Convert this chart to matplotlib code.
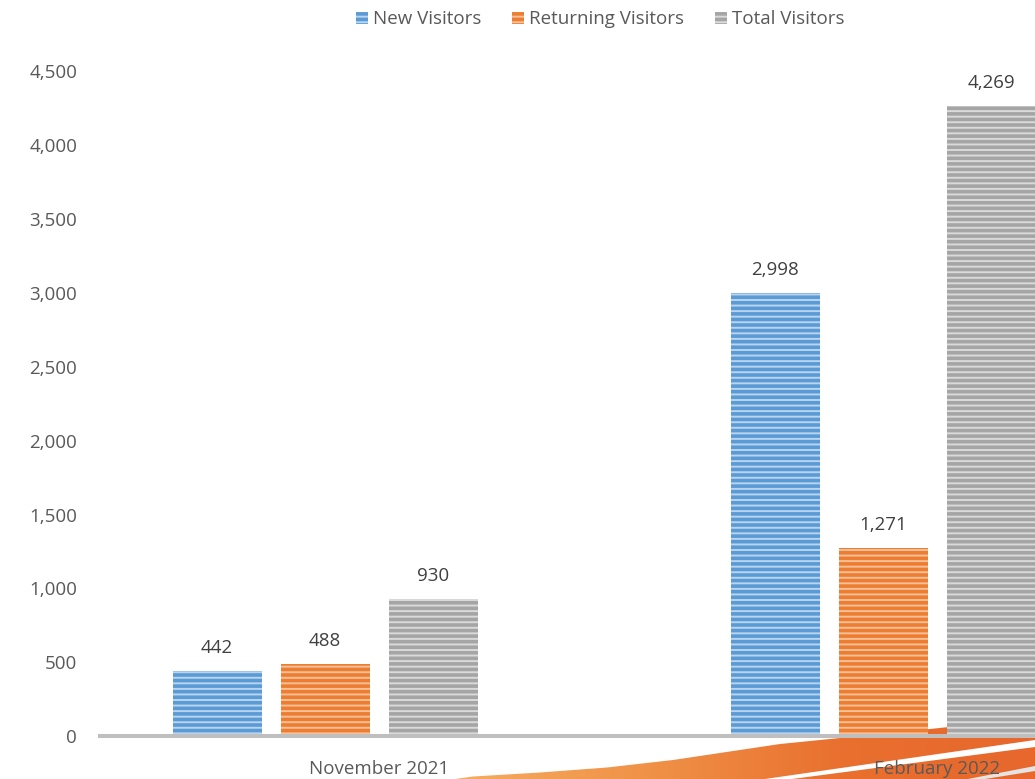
import numpy as np
import matplotlib
matplotlib.use("Agg")
import matplotlib.pyplot as plt
from matplotlib.patches import Patch, Polygon
from matplotlib.colors import LinearSegmentedColormap
from matplotlib.ticker import FuncFormatter

plt.rcParams['font.family'] = ['Open Sans', 'DejaVu Sans']
plt.rcParams['hatch.linewidth'] = 2.6

# data
months = ['November 2021', 'February 2022']
series = ['New Visitors', 'Returning Visitors', 'Total Visitors']
new_visitors = [442, 2998]
returning_visitors = [488, 1271]
total_visitors = [930, 4269]
values = [new_visitors, returning_visitors, total_visitors]
y_ticks = [0, 500, 1000, 1500, 2000, 2500, 3000, 3500, 4000, 4500]

main_cols = ['#5B9BD5', '#ED7D31', '#A5A5A5']
light_cols = ['#BAD4EE', '#F6C09A', '#DADADA']

W, H = 1035, 779
fig = plt.figure(figsize=(W / 100, H / 100), dpi=100)

# orange swoosh in the background
bg = fig.add_axes([0, 0, 1, 1], zorder=0)
bg.axis('off')
cmap = LinearSegmentedColormap.from_list('sw', ['#F5AD62', '#F09248', '#E9702F', '#E7672C'])
grad = np.linspace(0, 1, 256).reshape(1, -1)
im = bg.imshow(grad, extent=[450, W, H, 700], aspect='auto', cmap=cmap)
edge = [(455, 779), (473, 776.5), (540, 772.5), (607, 767.5), (673, 760), (780, 744),
        (930, 729), (W, 718), (W, H)]
band = Polygon(edge, transform=bg.transData)
im.set_clip_path(band)
bg.fill([765, W, W, 792], [H, 740, 747, H], color='white', lw=0)
bg.fill([968, W, W, 985], [H, 766, 771, H], color='#E4E4E4', lw=0)
bg.set_xlim(0, W)
bg.set_ylim(H, 0)

# main chart
zero_px, top_px = 736, 71.5
ax = fig.add_axes([100 / W, (H - zero_px) / H, (W - 100) / W, (zero_px - top_px) / H], zorder=1)
ax.set_facecolor('none')

n_slots = 4  # the source chart leaves room for a fourth, empty series
step = 108 / 558
width = 89 / 558
x = np.arange(len(months))
for i, (vals, mc, lc) in enumerate(zip(values, main_cols, light_cols)):
    off = (i - (n_slots - 1) / 2) * step
    bars = ax.bar(x + off, vals, width, color=lc, edgecolor=mc, hatch='---', linewidth=0, zorder=2)
    for b, v in zip(bars, vals):
        ax.annotate(f'{v:,}', (b.get_x() + b.get_width() / 2, v), xytext=(0, 16.5),
                    textcoords='offset points', ha='center', va='center',
                    fontsize=13.5, color='#404040')

ax.axhline(0, color='#BFBFBF', lw=2.9, zorder=3, clip_on=False)
ax.set_xlim(-0.5, -0.5 + (W - 100) / 558)
ax.set_ylim(0, 4500)
ax.set_yticks(y_ticks)
ax.yaxis.set_major_formatter(FuncFormatter(lambda v, p: f'{int(v):,}'))
ax.set_xticks(x, months)
ax.tick_params(axis='y', length=0, pad=16.5, labelsize=13.5, labelcolor='#595959')
ax.tick_params(axis='x', length=0, pad=17, labelsize=13.5, labelcolor='#595959')
for s in ax.spines.values():
    s.set_visible(False)

handles = [Patch(facecolor=lc, edgecolor=mc, hatch='---', linewidth=0) for mc, lc in zip(main_cols, light_cols)]
fig.legend(handles, series, loc='center', bbox_to_anchor=(600 / W, 1 - 19.5 / H), ncol=3,
           frameon=False, fontsize=13.5, handlelength=0.64, handleheight=0.64,
           handletextpad=0.27, columnspacing=1.65, labelcolor='#595959')

fig.savefig('out.png', dpi=100)
